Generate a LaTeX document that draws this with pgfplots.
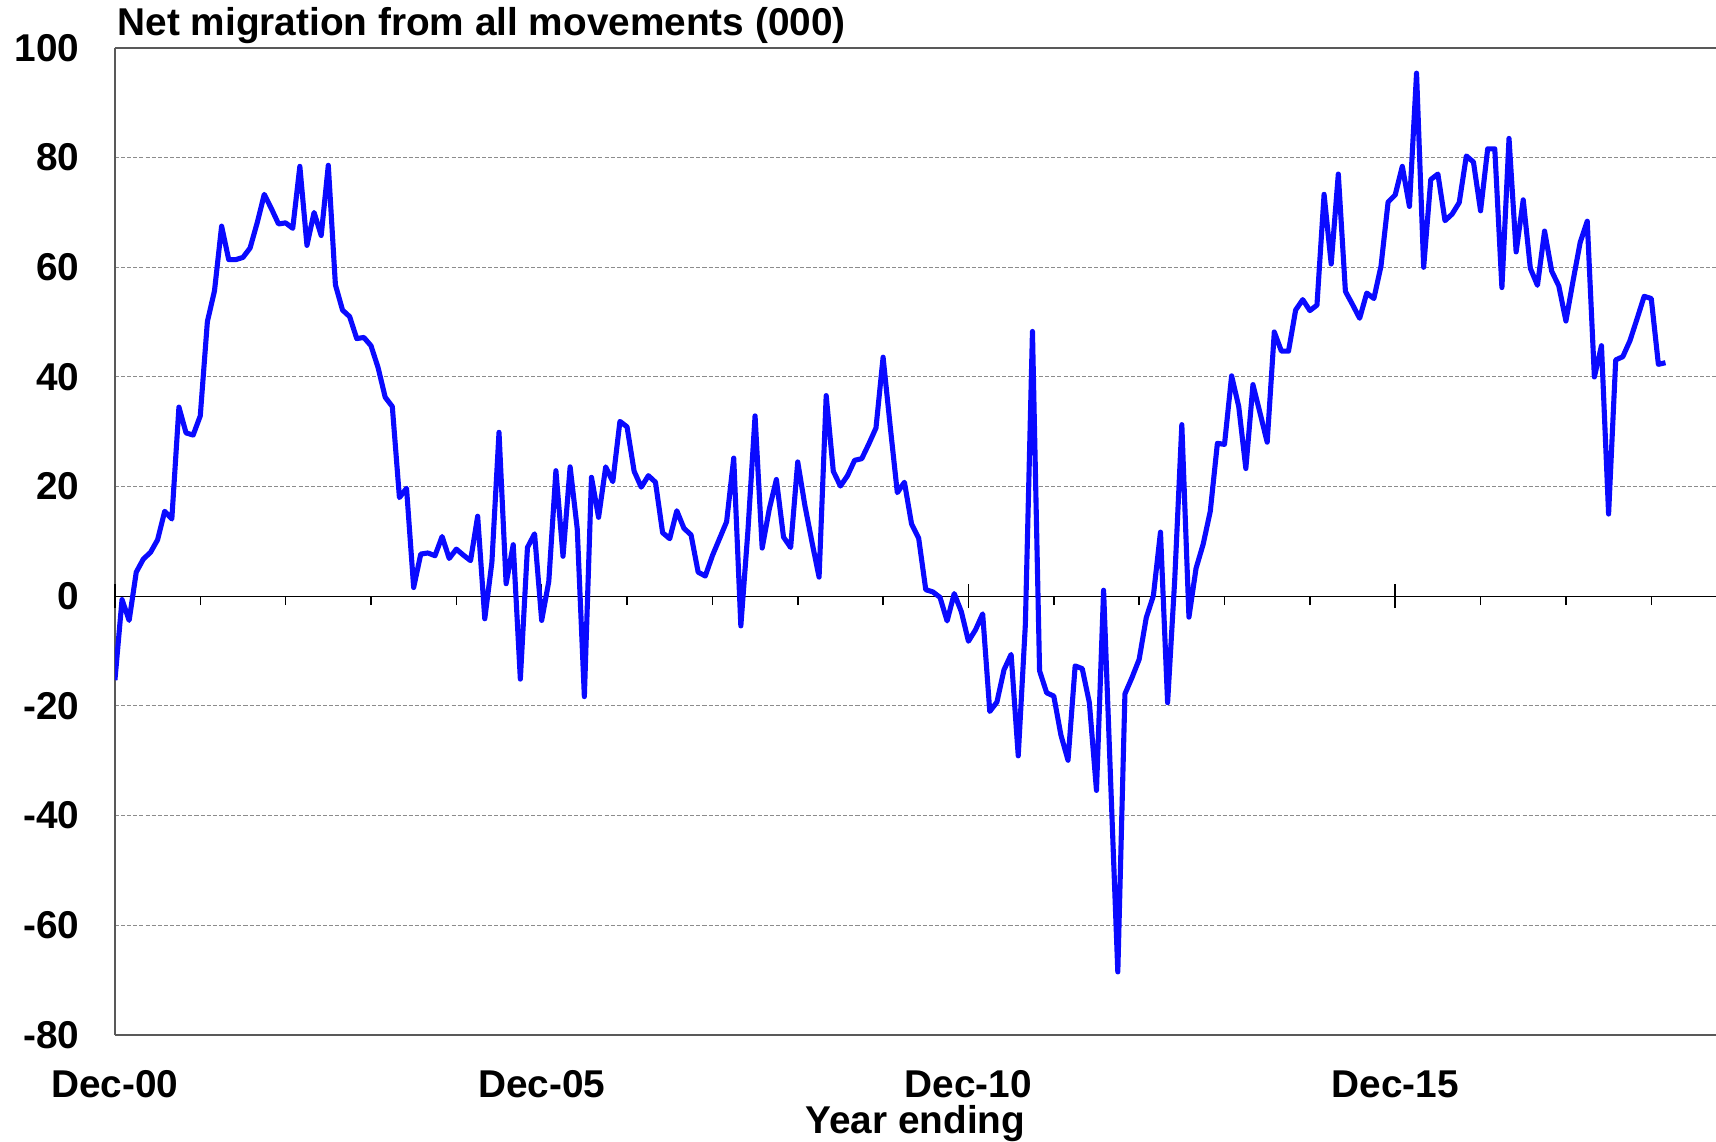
\documentclass[border=0pt]{standalone}
\usepackage{fontspec}
\setmainfont{Liberation Sans}
\usepackage{pgfplots}
\usepackage{pgfplotstable}
\pgfplotsset{compat=1.18}
\pgfplotstableread{
m v
0 -15.3
1 -0.6
2 -4.4
3 4.4
4 6.8
5 8.0
6 10.3
7 15.5
8 14.1
9 34.5
10 29.8
11 29.4
12 32.9
13 50.1
14 55.7
15 67.5
16 61.4
17 61.4
18 61.8
19 63.5
20 68.1
21 73.3
22 70.7
23 67.9
24 68.1
25 67.1
26 78.4
27 64.0
28 70.0
29 65.8
30 78.6
31 56.8
32 52.2
33 51.0
34 47.0
35 47.2
36 45.7
37 41.7
38 36.3
39 34.6
40 18.0
41 19.7
42 1.6
43 7.7
44 7.9
45 7.4
46 10.9
47 6.9
48 8.6
49 7.5
50 6.5
51 14.6
52 -4.1
53 6.2
54 29.9
55 2.3
56 9.4
57 -15.1
58 8.9
59 11.4
60 -4.4
61 2.7
62 22.9
63 7.3
64 23.6
65 12.3
66 -18.3
67 21.7
68 14.4
69 23.6
70 20.9
71 31.9
72 30.9
73 22.8
74 19.9
75 22.0
76 20.8
77 11.6
78 10.5
79 15.6
80 12.4
81 11.2
82 4.4
83 3.7
84 7.4
85 10.5
86 13.6
87 25.2
88 -5.4
89 12.0
90 32.9
91 8.8
92 15.9
93 21.3
94 10.8
95 8.9
96 24.5
97 16.6
98 9.9
99 3.5
100 36.6
101 22.8
102 20.1
103 22.0
104 24.8
105 25.1
106 27.8
107 30.7
108 43.6
109 31.0
110 18.9
111 20.8
112 13.2
113 10.6
114 1.2
115 0.8
116 -0.2
117 -4.5
118 0.5
119 -2.8
120 -8.2
121 -6.1
122 -3.2
123 -21.0
124 -19.3
125 -13.4
126 -10.6
127 -29.1
128 -5.2
129 48.3
130 -13.6
131 -17.6
132 -18.2
133 -25.3
134 -29.9
135 -12.7
136 -13.2
137 -19.4
138 -35.4
139 1.1
140 -34.0
141 -68.5
142 -17.8
143 -14.8
144 -11.5
145 -3.9
146 0.1
147 11.7
148 -19.4
149 3.0
150 31.3
151 -3.8
152 5.1
153 9.5
154 15.5
155 27.9
156 27.7
157 40.2
158 34.6
159 23.3
160 38.6
161 33.4
162 28.1
163 48.2
164 44.7
165 44.7
166 52.2
167 54.1
168 52.1
169 53.1
170 73.3
171 60.6
172 77.0
173 55.6
174 53.2
175 50.7
176 55.3
177 54.3
178 60.2
179 71.9
180 73.2
181 78.4
182 71.1
183 95.4
184 60.0
185 76.0
186 77.0
187 68.5
188 69.7
189 71.8
190 80.3
191 79.2
192 70.3
193 81.6
194 81.6
195 56.3
196 83.5
197 62.8
198 72.3
199 59.8
200 56.7
201 66.6
202 59.3
203 56.6
204 50.2
205 57.5
206 64.5
207 68.4
208 40.0
209 45.7
210 15.0
211 43.1
212 43.7
213 46.6
214 50.6
215 54.7
216 54.3
217 42.3
218 42.6
}\migration
\begin{document}
\begin{tikzpicture}
\pgfplotsset{
  common/.style={
    scale only axis, width=470.9pt, height=290.3pt,
    xmin=0, xmax=225.1, ymin=-80, ymax=100,
  },
}
\begin{axis}[common, name=ax, at={(0,0)}, anchor=south west,
  axis x line*=box, axis y line*=left,
  axis line style={draw=black!65, line width=0.7pt},
  major tick length=0pt,
  xtick={0,60,120,180}, xticklabels={Dec-00,Dec-05,Dec-10,Dec-15},
  xtick style={draw=none},
  ytick={-80,-60,-40,-20,0,20,40,60,80,100},
  yticklabels={-80,-60,-40,-20,0,20,40,60,80,100},
  ytick style={draw=none},
  ymajorgrids,
  grid style={draw=black!45, dash pattern=on 1.2pt off 0.6pt, line width=0.3pt},
  tick label style={font=\fontsize{11.4}{13}\selectfont\bfseries},
  yticklabel style={anchor=east, inner sep=0pt, xshift=-10.3pt},
  xticklabel style={anchor=base, inner sep=0pt, yshift=-18.5pt},
  every axis x label/.style={at={(axis description cs:0.5,0)}, anchor=base, yshift=-29.1pt,
    inner sep=0pt, font=\fontsize{11.4}{13}\selectfont\bfseries},
  xlabel={Year ending},
  every axis title/.style={at={(axis description cs:0,1)}, anchor=base west, yshift=3.8pt,
    xshift=0.6pt, inner sep=0pt, font=\fontsize{11.4}{13}\selectfont\bfseries},
  title={Net migration from all movements (000)},
]
\end{axis}
\begin{axis}[common, at={(ax.south west)}, anchor=south west,
  axis x line=middle, axis y line=none,
  axis line style={-, draw=black, line width=0.45pt},
  xtick={0,12,...,216}, xticklabels={},
  tick align=outside, major tick length=2.6pt,
  tick style={draw=black, line width=0.45pt},
  extra x ticks={0,60,120,180}, extra x tick labels={},
  extra x tick style={tick align=center, major tick length=7pt},
  hide obscured x ticks=false,
  ytick=\empty,
]
\addplot[color={rgb,255:red,10;green,10;blue,255}, line width=1.5pt, line join=round, mark=none] table[x=m, y=v] {\migration};
\end{axis}
\pgfresetboundingbox
\path ([xshift=-33.8pt, yshift=-31.2pt]ax.south west) rectangle ([yshift=14.1pt]ax.north east);
\end{tikzpicture}
\end{document}
